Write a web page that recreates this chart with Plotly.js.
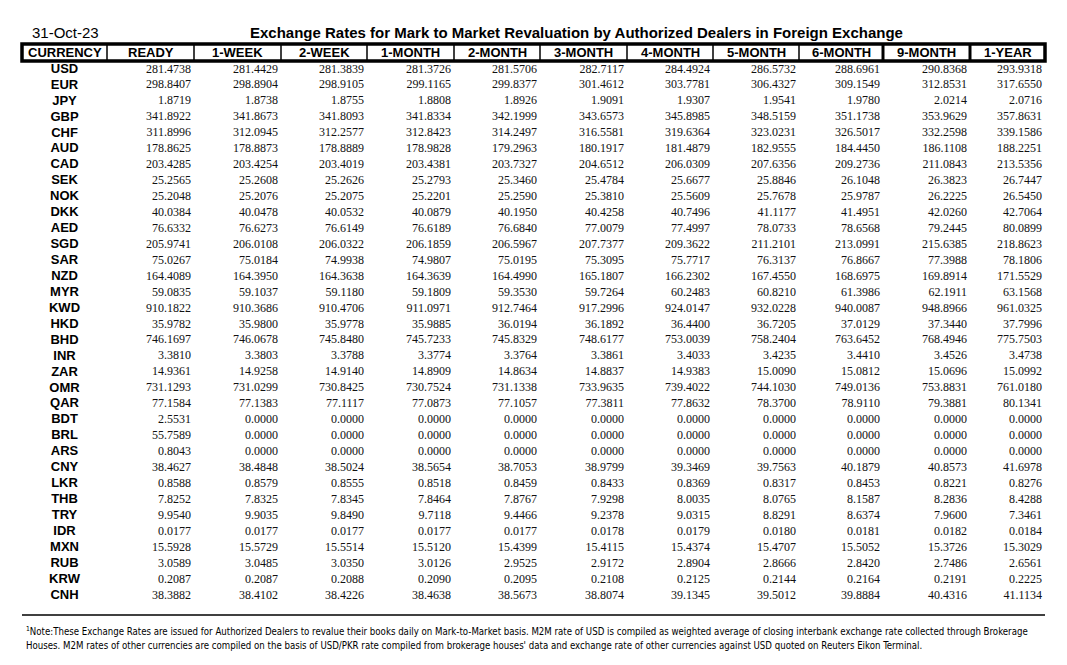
<!DOCTYPE html>
<html>
<head>
<meta charset="utf-8">
<script src="https://cdn.plot.ly/plotly-3.0.1.min.js"></script>
<style>html,body{margin:0;padding:0;background:#fff;}#chart{width:1067px;height:665px;}</style>
</head>
<body>
<div id="chart"></div>
<script>
// ---------------- DATA ----------------
const reportDate = "31-Oct-23";
const chartTitle = "Exchange Rates for Mark to Market Revaluation by Authorized Dealers in Foreign Exchange";
const headerLabels = ["CURRENCY","READY","1-WEEK","2-WEEK","1-MONTH","2-MONTH","3-MONTH","4-MONTH","5-MONTH","6-MONTH","9-MONTH","1-YEAR"];
const currencies = ["USD","EUR","JPY","GBP","CHF","AUD","CAD","SEK","NOK","DKK","AED","SGD","SAR","NZD","MYR","KWD","HKD","BHD","INR","ZAR","OMR","QAR","BDT","BRL","ARS","CNY","LKR","THB","TRY","IDR","MXN","RUB","KRW","CNH"];

const ready   = [281.4738,298.8407,1.8719,341.8922,311.8996,178.8625,203.4285,25.2565,25.2048,40.0384,76.6332,205.9741,75.0267,164.4089,59.0835,910.1822,35.9782,746.1697,3.3810,14.9361,731.1293,77.1584,2.5531,55.7589,0.8043,38.4627,0.8588,7.8252,9.9540,0.0177,15.5928,3.0589,0.2087,38.3882];
const week1   = [281.4429,298.8904,1.8738,341.8673,312.0945,178.8873,203.4254,25.2608,25.2076,40.0478,76.6273,206.0108,75.0184,164.3950,59.1037,910.3686,35.9800,746.0678,3.3803,14.9258,731.0299,77.1383,0,0,0,38.4848,0.8579,7.8325,9.9035,0.0177,15.5729,3.0485,0.2087,38.4102];
const week2   = [281.3839,298.9105,1.8755,341.8093,312.2577,178.8889,203.4019,25.2626,25.2075,40.0532,76.6149,206.0322,74.9938,164.3638,59.1180,910.4706,35.9778,745.8480,3.3788,14.9140,730.8425,77.1117,0,0,0,38.5024,0.8555,7.8345,9.8490,0.0177,15.5514,3.0350,0.2088,38.4226];
const month1  = [281.3726,299.1165,1.8808,341.8334,312.8423,178.9828,203.4381,25.2793,25.2201,40.0879,76.6189,206.1859,74.9807,164.3639,59.1809,911.0971,35.9885,745.7233,3.3774,14.8909,730.7524,77.0873,0,0,0,38.5654,0.8518,7.8464,9.7118,0.0177,15.5120,3.0126,0.2090,38.4638];
const month2  = [281.5706,299.8377,1.8926,342.1999,314.2497,179.2963,203.7327,25.3460,25.2590,40.1950,76.6840,206.5967,75.0195,164.4990,59.3530,912.7464,36.0194,745.8329,3.3764,14.8634,731.1338,77.1057,0,0,0,38.7053,0.8459,7.8767,9.4466,0.0177,15.4399,2.9525,0.2095,38.5673];
const month3  = [282.7117,301.4612,1.9091,343.6573,316.5581,180.1917,204.6512,25.4784,25.3810,40.4258,77.0079,207.7377,75.3095,165.1807,59.7264,917.2996,36.1892,748.6177,3.3861,14.8837,733.9635,77.3811,0,0,0,38.9799,0.8433,7.9298,9.2378,0.0178,15.4115,2.9172,0.2108,38.8074];
const month4  = [284.4924,303.7781,1.9307,345.8985,319.6364,181.4879,206.0309,25.6677,25.5609,40.7496,77.4997,209.3622,75.7717,166.2302,60.2483,924.0147,36.4400,753.0039,3.4033,14.9383,739.4022,77.8632,0,0,0,39.3469,0.8369,8.0035,9.0315,0.0179,15.4374,2.8904,0.2125,39.1345];
const month5  = [286.5732,306.4327,1.9541,348.5159,323.0231,182.9555,207.6356,25.8846,25.7678,41.1177,78.0733,211.2101,76.3137,167.4550,60.8210,932.0228,36.7205,758.2404,3.4235,15.0090,744.1030,78.3700,0,0,0,39.7563,0.8317,8.0765,8.8291,0.0180,15.4707,2.8666,0.2144,39.5012];
const month6  = [288.6961,309.1549,1.9780,351.1738,326.5017,184.4450,209.2736,26.1048,25.9787,41.4951,78.6568,213.0991,76.8667,168.6975,61.3986,940.0087,37.0129,763.6452,3.4410,15.0812,749.0136,78.9110,0,0,0,40.1879,0.8453,8.1587,8.6374,0.0181,15.5052,2.8420,0.2164,39.8884];
const month9  = [290.8368,312.8531,2.0214,353.9629,332.2598,186.1108,211.0843,26.3823,26.2225,42.0260,79.2445,215.6385,77.3988,169.8914,62.1911,948.8966,37.3440,768.4946,3.4526,15.0696,753.8831,79.3881,0,0,0,40.8573,0.8221,8.2836,7.9600,0.0182,15.3726,2.7486,0.2191,40.4316];
const year1   = [293.9318,317.6550,2.0716,357.8631,339.1586,188.2251,213.5356,26.7447,26.5450,42.7064,80.0899,218.8623,78.1806,171.5529,63.1568,961.0325,37.7996,775.7503,3.4738,15.0992,761.0180,80.1341,0,0,0,41.6978,0.8276,8.4288,7.3461,0.0184,15.3029,2.6561,0.2225,41.1134];

const footnoteLine1 = "<sup>1</sup>Note:These Exchange Rates are issued for Authorized Dealers to revalue their books daily on Mark-to-Market basis. M2M rate of USD is compiled as weighted average of closing interbank exchange rate collected through Brokerage";
const footnoteLine2 = "Houses. M2M rates of other currencies are compiled on the basis of USD/PKR rate compiled from brokerage houses' data and exchange rate of other currencies against USD quoted on Reuters Eikon Terminal.";

// ---------------- LAYOUT CONSTANTS ----------------
const W = 1067, H = 665;
const colEdges = [22,107,194,281,367,454,540,627,713,799,883,970,1045]; // column boundaries (px)
const thickDividers = [10, 11];   // dividers drawn thick (index into colEdges)
const firstRowPx = 69.5, rowStepPx = 15.94;
const headerTop = 44, headerBottom = 61;
const py = p => 1 - p / H;       // pixel-from-top -> paper y

const series = [ready, week1, week2, month1, month2, month3, month4, month5, month6, month9, year1];

// y category axis: index i -> firstRowPx + i*rowStepPx
const yTop = -firstRowPx / rowStepPx;
const yBottom = yTop + H / rowStepPx;

const traces = [];
// currency codes
traces.push({
  type: 'scatter', mode: 'text',
  x: currencies.map(() => (colEdges[0] + colEdges[1]) / 2),
  y: currencies,
  text: currencies,
  textposition: 'middle center',
  textfont: {family: 'Arial, "Liberation Sans", sans-serif', size: 13, color: '#000', weight: 'bold'},
  hoverinfo: 'skip', showlegend: false
});
// value columns
series.forEach((vals, k) => {
  traces.push({
    type: 'scatter', mode: 'text',
    x: vals.map(() => colEdges[k + 2] - 3),
    y: currencies,
    text: vals.map(v => v.toFixed(4)),
    textposition: 'middle left',
    textfont: {family: '"Liberation Serif", "Times New Roman", serif', size: 12, color: '#111'},
    hoverinfo: 'skip', showlegend: false
  });
});

const shapes = [];
// header box outer border
shapes.push({type: 'rect', xref: 'paper', yref: 'paper',
  x0: colEdges[0] / W, x1: colEdges[colEdges.length - 1] / W,
  y0: py(headerBottom), y1: py(headerTop),
  line: {color: '#000', width: 3.5}, fillcolor: 'rgba(0,0,0,0)'});
for (let i = 1; i < colEdges.length - 1; i++) {
  const thick = thickDividers.includes(i);
  shapes.push({type: 'line', xref: 'paper', yref: 'paper',
    x0: colEdges[i] / W, x1: colEdges[i] / W, y0: py(headerBottom), y1: py(headerTop),
    line: {color: '#000', width: thick ? 3 : 1.5}});
}
// footnote rule
shapes.push({type: 'line', xref: 'paper', yref: 'paper',
  x0: colEdges[0] / W, x1: colEdges[colEdges.length - 1] / W, y0: py(615), y1: py(615),
  line: {color: '#000', width: 1.5}});

const annotations = [];
annotations.push({text: reportDate, xref: 'paper', yref: 'paper', x: 30 / W, y: py(33),
  xanchor: 'left', yanchor: 'middle', showarrow: false,
  font: {family: 'Arial, "Liberation Sans", sans-serif', size: 15, color: '#000'}});
annotations.push({text: chartTitle, xref: 'paper', yref: 'paper', x: 576 / W, y: py(33),
  xanchor: 'center', yanchor: 'middle', showarrow: false,
  font: {family: 'Arial, "Liberation Sans", sans-serif', size: 15, color: '#000', weight: 'bold'}});
headerLabels.forEach((lab, i) => {
  annotations.push({text: lab, xref: 'paper', yref: 'paper',
    x: (colEdges[i] + colEdges[i + 1]) / 2 / W, y: py((headerTop + headerBottom) / 2 + 0.5),
    xanchor: 'center', yanchor: 'middle', showarrow: false,
    font: {family: 'Arial, "Liberation Sans", sans-serif', size: 13, color: '#000', weight: 'bold'}});
});
const fnFont = {family: '"Liberation Sans Narrow", "Arial Narrow", "DejaVu Sans Condensed", "Roboto Condensed", sans-serif', size: 9.6, color: '#000'};
annotations.push({text: footnoteLine1, xref: 'paper', yref: 'paper', x: 24 / W, y: py(631),
  xanchor: 'left', yanchor: 'middle', showarrow: false, font: fnFont});
annotations.push({text: footnoteLine2, xref: 'paper', yref: 'paper', x: 24 / W, y: py(645),
  xanchor: 'left', yanchor: 'middle', showarrow: false, font: fnFont});

const layout = {
  width: W, height: H,
  margin: {l: 0, r: 0, t: 0, b: 0, pad: 0},
  paper_bgcolor: '#fff', plot_bgcolor: '#fff',
  xaxis: {range: [0, W], visible: false, fixedrange: true},
  yaxis: {type: 'category', categoryorder: 'array', categoryarray: currencies,
          range: [yBottom, yTop], visible: false, fixedrange: true},
  shapes: shapes,
  annotations: annotations,
  showlegend: false
};

Plotly.newPlot('chart', traces, layout, {displayModeBar: false, staticPlot: true});
</script>
</body>
</html>
